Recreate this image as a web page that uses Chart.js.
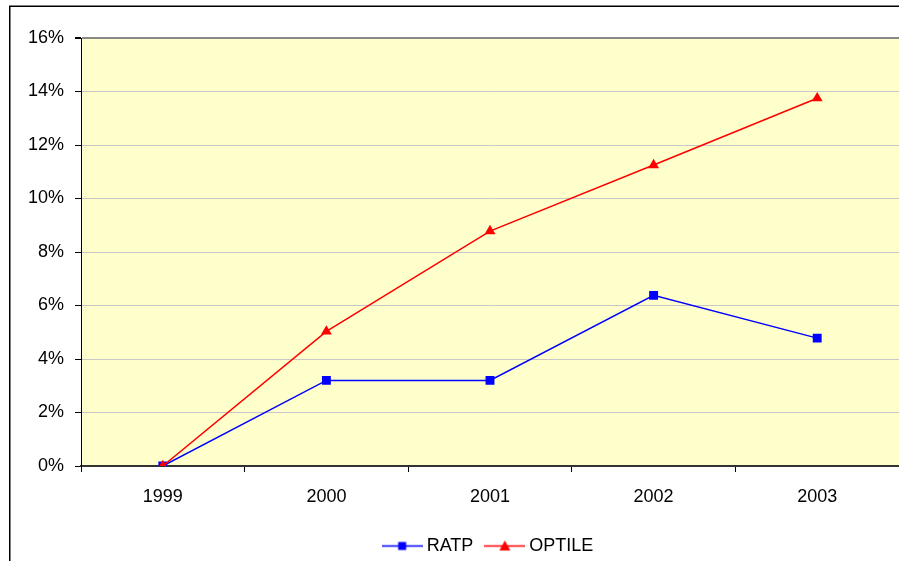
<!DOCTYPE html>
<html>
<head>
<meta charset="utf-8">
<script src="https://cdn.jsdelivr.net/npm/chart.js@4/dist/chart.umd.min.js"></script>
<style>
html,body{margin:0;padding:0;background:#fff;}
#wrap{width:899px;height:561px;}
</style>
</head>
<body>
<div id="wrap"><canvas id="c" width="899" height="561"></canvas></div>
<script>
const years = ['1999', '2000', '2001', '2002', '2003'];
const ratp = [0.0, 0.032, 0.032, 0.0638, 0.0478];
const optile = [0.0, 0.0503, 0.0878, 0.1125, 0.1375];
const seriesNames = ['RATP', 'OPTILE'];

const FONT = "'Liberation Sans', Arial, sans-serif";

function legendIcon(color, style) {
  const c = document.createElement('canvas');
  c.width = 41; c.height = 13;
  const g = c.getContext('2d');
  g.strokeStyle = color; g.lineWidth = 1.5;
  g.beginPath(); g.moveTo(0, 6.5); g.lineTo(41, 6.5); g.stroke();
  g.fillStyle = color;
  if (style === 'rect') {
    g.fillRect(16.5, 2.5, 8, 8);
  } else {
    g.beginPath(); g.moveTo(20.5, 1); g.lineTo(26, 11); g.lineTo(15, 11); g.closePath(); g.fill();
  }
  return c;
}

const framePlugin = {
  id: 'frame',
  beforeDraw(chart) {
    const {ctx, chartArea: a} = chart;
    ctx.save();
    ctx.fillStyle = '#FFFFCC';
    ctx.fillRect(a.left, a.top, a.right - a.left, a.bottom - a.top);
    ctx.strokeStyle = '#000';
    ctx.lineWidth = 1.5;
    ctx.beginPath();
    ctx.moveTo(9.75, 561);
    ctx.lineTo(9.75, 6.25);
    ctx.lineTo(899, 6.25);
    ctx.stroke();
    ctx.restore();
  }
};

new Chart(document.getElementById('c'), {
  type: 'line',
  data: {
    labels: years,
    datasets: [
      {
        label: seriesNames[0], data: ratp,
        borderColor: '#0000FF', backgroundColor: '#0000FF',
        borderWidth: 1.5, pointStyle: 'rect', pointRadius: 6.3,
        pointBorderWidth: 0, tension: 0, order: 1
      },
      {
        label: seriesNames[1], data: optile,
        borderColor: '#FF0000', backgroundColor: '#FF0000',
        borderWidth: 1.5, pointStyle: 'triangle', pointRadius: 6.3,
        pointBorderWidth: 0, tension: 0, order: 0
      }
    ]
  },
  options: {
    responsive: false,
    animation: false,
    layout: { autoPadding: false, padding: { top: 38, left: 0, right: 0, bottom: -4 } },
    plugins: {
      tooltip: { enabled: false },
      legend: {
        position: 'bottom',
        fullSize: false,
        labels: {
          usePointStyle: true,
          pointStyleWidth: 31,
          padding: 16,
          color: '#000',
          font: { family: FONT, size: 18 },
          sort: (a, b) => a.datasetIndex - b.datasetIndex,
          generateLabels(chart) {
            return chart.data.datasets.map((d, i) => ({
              text: d.label,
              datasetIndex: i,
              pointStyle: legendIcon(d.borderColor, d.pointStyle),
              fillStyle: d.borderColor,
              strokeStyle: d.borderColor,
              lineWidth: 0,
              fontColor: '#000',
              hidden: false
            }));
          }
        }
      }
    },
    scales: {
      x: {
        type: 'category',
        offset: true,
        grid: { offset: true, drawOnChartArea: false, drawTicks: true, tickLength: 6, color: '#000', lineWidth: 1 },
        border: { color: '#333', width: 2 },
        ticks: { color: '#000', font: { family: FONT, size: 18 }, padding: 14, maxRotation: 0 },
        afterFit(s) { s.height = 55; }
      },
      y: {
        min: 0, max: 0.16,
        ticks: {
          stepSize: 0.02, color: '#000', padding: 11,
          font: { family: FONT, size: 18 },
          callback: v => Math.round(v * 100) + '%'
        },
        grid: {
          tickLength: 6,
          tickColor: '#000',
          color: c => (c.tick && Math.abs(c.tick.value - 0.16) < 1e-9) ? '#888888' : '#C8C8C8',
          lineWidth: c => (c.tick && Math.abs(c.tick.value - 0.16) < 1e-9) ? 2 : 1
        },
        border: { color: '#000', width: 1 },
        afterFit(s) { s.width = 81; }
      }
    }
  },
  plugins: [framePlugin]
});
</script>
</body>
</html>
